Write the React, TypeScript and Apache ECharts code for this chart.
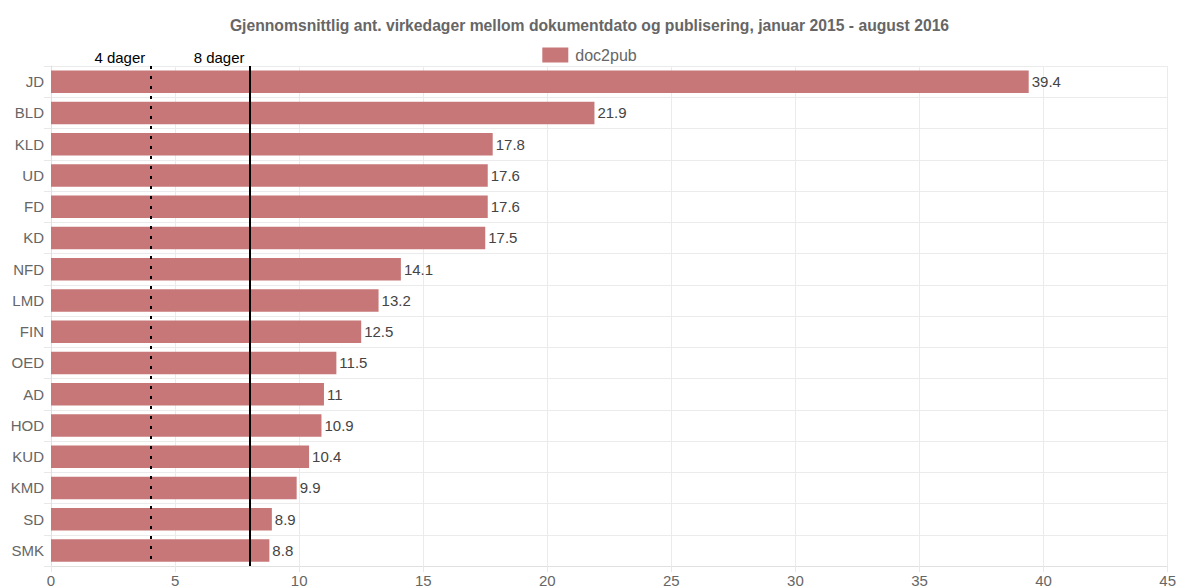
import React, { useEffect, useRef } from "react";
import * as echarts from "echarts";

const categories = ["JD", "BLD", "KLD", "UD", "FD", "KD", "NFD", "LMD", "FIN", "OED", "AD", "HOD", "KUD", "KMD", "SD", "SMK"];
const values = [39.4, 21.9, 17.8, 17.6, 17.6, 17.5, 14.1, 13.2, 12.5, 11.5, 11, 10.9, 10.4, 9.9, 8.9, 8.8];
const seriesName = "doc2pub";
const refLines = [
  { value: 4, label: "4 dager", type: [3, 7] },
  { value: 8, label: "8 dager", type: "solid" },
];
const titleText = "Gjennomsnittlig ant. virkedager mellom dokumentdato og publisering, januar 2015 - august 2016";

export default function App() {
  const ref = useRef<HTMLDivElement>(null);
  useEffect(() => {
    const chart = echarts.init(ref.current!, null, { renderer: "svg" });
    const font = "'Liberation Sans', Arial, sans-serif";
    chart.setOption({
      animation: false,
      textStyle: { fontFamily: font },
      title: {
        text: titleText,
        left: "center",
        top: 12,
        textStyle: { fontFamily: font, fontSize: 15.7, fontWeight: "bold", color: "#666" },
      },
      legend: {
        top: 42,
        left: "center",
        data: [seriesName],
        itemWidth: 26,
        itemHeight: 15,
        itemGap: 10,
        textStyle: { fontFamily: font, fontSize: 16, color: "#666", padding: [0, 0, 0, 2] },
        icon: "rect",
      },
      grid: { left: 51, right: 11, top: 66, bottom: 21, containLabel: false },
      xAxis: {
        type: "value",
        min: 0,
        max: 45,
        interval: 5,
        axisLine: { show: true, lineStyle: { color: "#e0e0e0" } },
        axisTick: { show: true, length: 6, lineStyle: { color: "#e8e8e8" } },
        axisLabel: { color: "#666", fontSize: 15, fontFamily: font, margin: 7 },
        splitLine: { show: true, lineStyle: { color: "#ebebeb" } },
      },
      yAxis: {
        type: "category",
        data: categories,
        inverse: true,
        axisLine: { show: true, lineStyle: { color: "#e0e0e0" } },
        axisTick: { show: true, length: 7, lineStyle: { color: "#e8e8e8" } },
        axisLabel: { color: "#666", fontSize: 15, fontFamily: font, margin: 7 },
        splitLine: { show: true, lineStyle: { color: "#ebebeb" } },
      },
      series: [
        {
          name: seriesName,
          type: "bar",
          data: values,
          barCategoryGap: "28%",
          itemStyle: { color: "#c77777" },
          label: {
            show: true,
            position: "right",
            distance: 3,
            color: "#444",
            fontSize: 15,
            fontFamily: font,
          },
          markLine: {
            silent: true,
            symbol: "none",
            animation: false,
            data: refLines.map((r) => ({
              xAxis: r.value,
              lineStyle: { color: "#000", width: 2, type: r.type },
              label: {
                show: true,
                position: "start",
                formatter: r.label,
                color: "#000",
                fontSize: 15,
                fontFamily: font,
                align: "right",
                verticalAlign: "bottom",
                offset: [-5, 4],
              },
            })),
          },
        },
      ],
    });
    return () => chart.dispose();
  }, []);
  return <div ref={ref} style={{ width: 1179, height: 588, position: "absolute", left: 0, top: 0 }} />;
}
